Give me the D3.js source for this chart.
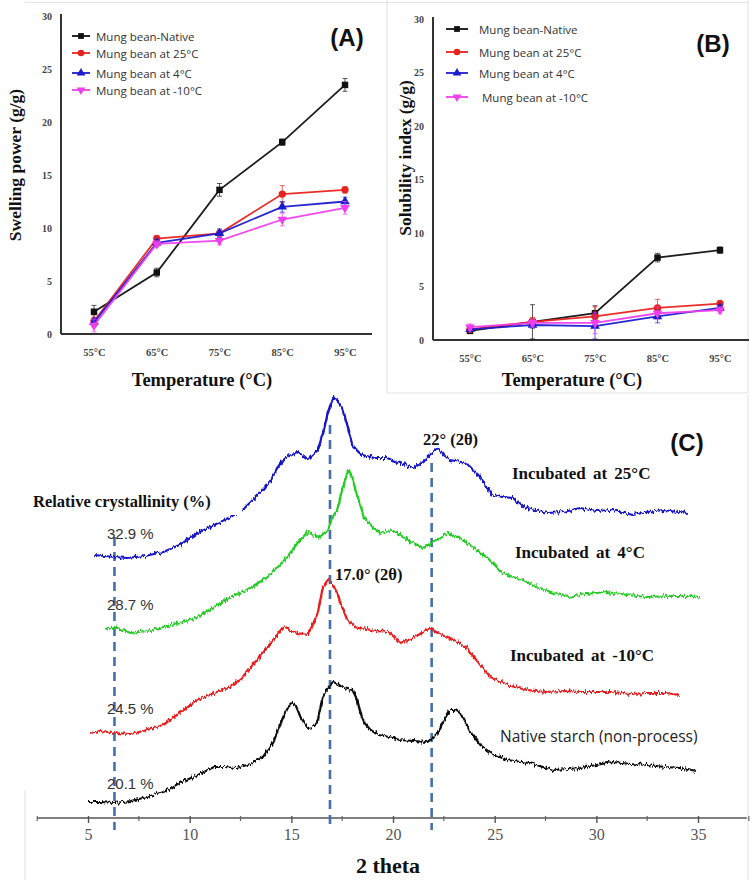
<!DOCTYPE html>
<html><head><meta charset="utf-8">
<script src="https://cdn.jsdelivr.net/npm/d3@7"></script>
<style>
html,body{margin:0;padding:0;background:#fff;}
svg{display:block;}
</style></head>
<body>
<svg id="chart" width="755" height="882"></svg>
<script>
// ---------- DATA ----------
const categories = ["55°C","65°C","75°C","85°C","95°C"];
const seriesNames = ["Mung bean-Native","Mung bean at 25°C","Mung bean at 4°C","Mung bean at -10°C"];
const seriesNamesB = ["Mung bean-Native","Mung bean at 25°C","Mung bean at 4°C"," Mung bean at -10°C"];
const yTicksAB = [0,5,10,15,20,25,30];

const swellNative = [2.1, 5.8, 13.6, 18.1, 23.5];
const swell25     = [1.2, 9.0, 9.5, 13.2, 13.6];
const swell4      = [1.1, 8.6, 9.5, 12.0, 12.5];
const swellM10    = [0.8, 8.5, 8.8, 10.8, 11.9];
const swellErrNative = [0.6, 0.4, 0.6, 0.3, 0.6];
const swellErr25     = [0.5, 0.3, 0.3, 0.8, 0.3];
const swellErr4      = [0.4, 0.3, 0.4, 0.5, 0.4];
const swellErrM10    = [0.6, 0.3, 0.4, 0.6, 0.6];

const solNative = [0.85, 1.7, 2.5, 7.7, 8.4];
const sol25     = [1.0, 1.7, 2.2, 3.0, 3.4];
const sol4      = [1.0, 1.4, 1.3, 2.2, 3.0];
const solM10    = [1.2, 1.6, 1.6, 2.5, 2.8];
const solErrNative = [0.2, 1.6, 0.7, 0.4, 0.3];
const solErr25     = [0.2, 0.4, 0.9, 0.8, 0.3];
const solErr4      = [0.2, 0.3, 1.2, 0.6, 0.3];
const solErrM10    = [0.3, 0.3, 1.0, 0.6, 0.3];

// XRD patterns (2θ, stacked intensity a.u.)
const xrd25 = [[5.3,263],[6.3,261],[6.9,260],[7.8,262],[8.7,266],[9.5,273],[10.4,285],[11.2,293],[12.0,301],[12.6,308],[13.1,318],[13.6,328],[14.0,338],[14.3,350],[14.6,358],[14.9,363],[15.3,366],[15.5,363],[15.8,358],[16.0,362],[16.3,368],[16.6,388],[16.8,406],[17.05,420],[17.25,418],[17.5,410],[17.75,393],[18.0,373],[18.3,366],[18.5,363],[19.1,360],[19.7,360],[20.35,355],[21.0,350],[21.5,356],[21.8,363],[22.2,370],[22.5,363],[22.8,358],[23.6,355],[24.3,341],[24.6,331],[24.9,323],[25.4,321],[25.9,320],[26.4,311],[27.0,308],[27.6,305],[28.4,306],[29.2,310],[30.0,307],[30.8,308],[31.8,303],[32.5,306],[33.3,308],[34.0,306],[34.5,305]];
const xrd4 = [[5.85,188],[6.3,191],[7.1,185],[7.9,187],[8.7,191],[9.5,195],[10.4,201],[11.2,211],[12.0,221],[12.8,228],[13.6,238],[14.2,248],[14.8,261],[15.3,275],[15.8,286],[16.1,283],[16.4,281],[16.8,288],[17.0,300],[17.25,308],[17.5,328],[17.8,348],[18.0,340],[18.15,328],[18.4,313],[18.55,301],[19.0,291],[19.4,285],[20.0,288],[20.7,278],[21.5,270],[22.1,278],[22.7,285],[23.15,281],[23.65,275],[24.1,268],[24.6,261],[25.0,253],[25.4,245],[25.9,241],[26.4,238],[27.2,230],[27.9,225],[28.6,221],[29.5,224],[30.5,226],[31.5,223],[32.5,221],[33.5,222],[34.5,222],[35.1,221]];
const xrdM10 = [[5.1,85],[5.6,87],[6.3,85],[7.1,84],[7.9,88],[8.7,93],[9.5,105],[10.4,118],[11.2,125],[12.0,131],[12.6,141],[13.1,153],[13.6,165],[14.1,178],[14.6,191],[14.9,188],[15.3,185],[15.8,183],[16.0,191],[16.3,205],[16.55,231],[16.8,238],[17.05,233],[17.25,225],[17.5,211],[17.75,198],[18.1,192],[18.5,190],[19.1,187],[19.8,186],[20.35,175],[21.0,180],[21.4,185],[21.8,190],[22.2,185],[22.7,180],[23.15,176],[23.6,171],[23.9,163],[24.3,153],[24.8,141],[25.1,138],[25.8,132],[26.6,128],[27.5,126],[28.4,127],[29.2,126],[30.0,126],[30.8,126],[31.7,124],[32.5,125],[33.4,125],[34.1,123]];
const xrdNative = [[5.0,16],[5.6,16],[6.3,15],[7.1,17],[7.9,21],[8.7,26],[9.5,35],[10.4,43],[11.2,51],[11.7,51],[12.3,50],[13.0,54],[13.6,61],[14.1,75],[14.6,101],[14.85,111],[15.05,115],[15.25,111],[15.45,101],[15.8,90],[16.1,91],[16.3,98],[16.55,121],[16.8,130],[17.05,136],[17.3,134],[17.55,130],[18.0,128],[18.2,120],[18.4,105],[18.6,95],[18.9,88],[19.3,83],[19.8,81],[20.35,78],[21.0,77],[21.7,76],[22.2,85],[22.5,98],[22.8,108],[23.05,108],[23.3,105],[23.55,96],[23.8,86],[24.3,73],[24.8,65],[25.6,58],[26.7,55],[27.9,48],[28.6,49],[29.2,50],[30.0,53],[30.8,56],[31.7,54],[32.5,53],[33.4,51],[34.1,50],[34.9,46]];
const xTicksC = [5,10,15,20,25,30,35];
const minorTicksC = [2.5,7.5,12.5,17.5,22.5,27.5,32.5,37.5];
const crystallinity = ["32.9 %","28.7 %","24.5 %","20.1 %"];
const curveLabels = ["Incubated at 25°C","Incubated at 4°C","Incubated at -10°C","Native starch (non-process)"];
const peakLines = [6.3, 16.9, 21.9];

// ---------- SETUP ----------
const svg = d3.select("#chart");
svg.append("rect").attr("width",755).attr("height",882).attr("fill","#fff");
const defs = svg.append("defs");
const f = defs.append("filter").attr("id","rough").attr("x","-5%").attr("y","-20%").attr("width","110%").attr("height","140%");
f.append("feTurbulence").attr("type","fractalNoise").attr("baseFrequency","0.55 0.12").attr("numOctaves",2).attr("seed",7).attr("result","n");
f.append("feColorMatrix").attr("in","n").attr("type","matrix")
  .attr("values","0 0 0 0 0.5  0 1 0 0 0  0 0 1 0 0  0 0 0 0 1").attr("result","ny");
f.append("feDisplacementMap").attr("in","SourceGraphic").attr("in2","ny").attr("scale",7).attr("xChannelSelector","R").attr("yChannelSelector","G");

const SERIF = "'Liberation Serif','Times New Roman',serif";
const SANS = "'Open Sans','Noto Sans',sans-serif";

// faint panel frames
const frame = svg.append("g").attr("stroke","#e4e4e4").attr("stroke-width",1.2).attr("fill","none");
frame.append("line").attr("x1",25).attr("x2",387).attr("y1",2.5).attr("y2",2.5);
frame.append("line").attr("x1",387).attr("x2",748).attr("y1",2.5).attr("y2",2.5);
frame.append("line").attr("x1",387).attr("x2",387).attr("y1",0).attr("y2",393);
frame.append("line").attr("x1",748).attr("x2",748).attr("y1",0).attr("y2",393);
frame.append("line").attr("x1",387).attr("x2",748).attr("y1",393).attr("y2",393);
frame.append("line").attr("x1",748).attr("x2",748).attr("y1",395).attr("y2",880);
frame.append("line").attr("x1",25).attr("x2",25).attr("y1",790).attr("y2",880);

const colors = ["#111111","#e8231f","#1c1ccf","#ee3fee"];
const symbols = [d3.symbolSquare, d3.symbolCircle, d3.symbolTriangle, d3.symbolTriangle];
const rotations = [0,0,0,180];
const symSizes = [42, 42, 40, 40];

function panel(cfg){
  const g = svg.append("g");
  const x = d3.scalePoint().domain(categories).range([cfg.x0, cfg.x1]);
  const y = d3.scaleLinear().domain([0,30]).range([cfg.yb, cfg.yt]);
  g.append("line").attr("x1",cfg.ax).attr("x2",cfg.ax).attr("y1",cfg.yt-2).attr("y2",cfg.yb).attr("stroke","#333").attr("stroke-width",2);
  g.append("line").attr("x1",cfg.ax).attr("x2",cfg.axEnd).attr("y1",cfg.yb).attr("y2",cfg.yb).attr("stroke","#333").attr("stroke-width",2);
  const ya = g.append("g").attr("transform",`translate(${cfg.ax},0)`).call(d3.axisLeft(y).tickValues(yTicksAB).tickSize(0).tickPadding(9));
  ya.select(".domain").remove();
  ya.selectAll("text").attr("font-family",SERIF).attr("font-weight","bold").attr("font-size",10).attr("fill","#444");
  const xa = g.append("g").attr("transform",`translate(0,${cfg.yb})`).call(d3.axisBottom(x).tickSize(0).tickPadding(15));
  xa.select(".domain").remove();
  xa.selectAll("text").attr("font-family",SERIF).attr("font-weight","bold").attr("font-size",10.5).attr("fill","#444");
  g.append("text").attr("x",cfg.xlabX).attr("y",386).attr("text-anchor","middle")
   .attr("font-family",SERIF).attr("font-weight","bold").attr("font-size",18.5).attr("fill","#111").text("Temperature (°C)");
  g.append("text").attr("transform",`translate(${cfg.ylabX},${cfg.ylabY}) rotate(-90)`).attr("text-anchor","middle")
   .attr("font-family",SERIF).attr("font-weight","bold").attr("font-size",17.5).attr("fill","#111").text(cfg.ylab);
  g.append("text").attr("x",cfg.tagX).attr("y",cfg.tagY).attr("text-anchor","middle").attr("dominant-baseline","central")
   .attr("font-family","'Liberation Sans',Arial,sans-serif").attr("font-weight","bold").attr("font-size",24).attr("fill","#111").text(cfg.tag);
  const line = d3.line().x((d,i)=>x(categories[i])).y(d=>y(d));
  cfg.series.forEach((s,k)=>{
    g.append("path").datum(s.v).attr("d",line).attr("fill","none").attr("stroke",colors[k]).attr("stroke-width",1.8).attr("opacity",0.95);
    s.v.forEach((v,i)=>{
      const cx = x(categories[i]);
      const e = s.e[i];
      g.append("line").attr("x1",cx).attr("x2",cx).attr("y1",y(v-e)).attr("y2",y(v+e)).attr("stroke",colors[k]).attr("stroke-width",1).attr("opacity",0.7);
      [v-e,v+e].forEach(t=>g.append("line").attr("x1",cx-2.5).attr("x2",cx+2.5).attr("y1",y(t)).attr("y2",y(t)).attr("stroke",colors[k]).attr("stroke-width",1).attr("opacity",0.7));
      g.append("path").attr("d",d3.symbol().type(symbols[k]).size(symSizes[k])())
       .attr("transform",`translate(${cx},${y(v)}) rotate(${rotations[k]})`).attr("fill",colors[k]);
    });
  });
  cfg.legendNames.forEach((name,k)=>{
    const ly = cfg.legY[k];
    g.append("line").attr("x1",cfg.legX).attr("x2",cfg.legX+cfg.legW).attr("y1",ly).attr("y2",ly).attr("stroke",colors[k]).attr("stroke-width",1.8);
    g.append("path").attr("d",d3.symbol().type(symbols[k]).size(symSizes[k]*0.8)())
     .attr("transform",`translate(${cfg.legX+cfg.legW/2},${ly}) rotate(${rotations[k]})`).attr("fill",colors[k]);
    g.append("text").attr("x",cfg.legTX).attr("y",ly).attr("dominant-baseline","central").attr("xml:space","preserve")
     .attr("font-family",SANS).attr("font-size",11.5).attr("fill","#333").text(name);
  });
}

panel({x0:94,x1:345,yb:334,yt:16,ax:61,axEnd:372,xlabX:202,ylabX:21,ylabY:165,ylab:"Swelling power (g/g)",
  tag:"(A)",tagX:347,tagY:37,legX:72,legW:18,legTX:96,legY:[36,53,73,90],legendNames:seriesNames,
  series:[{v:swellNative,e:swellErrNative},{v:swell25,e:swellErr25},{v:swell4,e:swellErr4},{v:swellM10,e:swellErrM10}]});
panel({x0:470,x1:720,yb:340,yt:19,ax:433,axEnd:749,xlabX:572,ylabX:411,ylabY:158,ylab:"Solubility index (g/g)",
  tag:"(B)",tagX:713,tagY:43,legX:446,legW:22,legTX:479,legY:[29,52,73,97],legendNames:seriesNamesB,
  series:[{v:solNative,e:solErrNative},{v:sol25,e:solErr25},{v:sol4,e:solErr4},{v:solM10,e:solErrM10}]});

// ---------- PANEL C ----------
const gc = svg.append("g");
const xC = d3.scaleLinear().domain([2.5,37.4]).range([37.2,746.8]);
const yC = d3.scaleLinear().domain([0,430]).range([818,388]);

gc.append("line").attr("x1",xC(2.5)).attr("x2",xC(37.4)).attr("y1",818).attr("y2",818).attr("stroke","#555").attr("stroke-width",1.6);
const ax = gc.append("g").attr("transform","translate(0,818)").call(d3.axisBottom(xC).tickValues(xTicksC).tickSize(5).tickPadding(6));
ax.select(".domain").remove();
ax.selectAll("line").attr("stroke","#555").attr("stroke-width",1.4).attr("y1",-2);
ax.selectAll("text").attr("font-family",SERIF).attr("font-size",16).attr("fill","#555");
gc.selectAll(".minor").data(minorTicksC).join("line").attr("class","minor")
  .attr("x1",d=>xC(d)).attr("x2",d=>xC(d)).attr("y1",816).attr("y2",821).attr("stroke","#666").attr("stroke-width",1.2);
gc.append("text").attr("x",388).attr("y",873).attr("text-anchor","middle").attr("font-family",SERIF).attr("font-weight","bold")
  .attr("font-size",22).attr("fill","#111").text("2 theta");

const peakTop = [537,425,463];
peakLines.forEach((p,i)=>{
  gc.append("line").attr("x1",xC(p)).attr("x2",xC(p)).attr("y1",peakTop[i]).attr("y2",830)
    .attr("stroke","#4670ad").attr("stroke-width",2.6).attr("stroke-dasharray","9,6");
});

const lineC = d3.line().x(d=>xC(d[0])).y(d=>yC(d[1]));
const curves = [xrd25, xrd4, xrdM10, xrdNative];
const curveColors = ["#1414c8","#22cc22","#e81c1c","#111111"];
curves.forEach((c,i)=>{
  gc.append("path").datum(c).attr("d",lineC).attr("fill","none").attr("stroke",curveColors[i])
    .attr("stroke-width",2.2).attr("stroke-linejoin","round").attr("filter","url(#rough)");
});

gc.append("rect").attr("x",28).attr("y",487).attr("width",214).attr("height",28).attr("fill","#fff");
gc.append("text").attr("x",33).attr("y",507).attr("font-family",SERIF).attr("font-weight","bold").attr("font-size",16.5)
  .attr("fill","#111").text("Relative crystallinity (%)");

const crystY = [539,610,714,789];
crystallinity.forEach((t,i)=>{
  gc.append("text").attr("x",107).attr("y",crystY[i]).attr("font-family","'Liberation Sans',Arial,sans-serif")
    .attr("font-size",15).attr("fill","#333").text(t);
});

gc.append("text").attr("x",335).attr("y",580).attr("font-family",SERIF).attr("font-weight","bold").attr("font-size",16.5).attr("fill","#111").text("17.0° (2θ)");
gc.append("text").attr("x",423).attr("y",445).attr("font-family",SERIF).attr("font-weight","bold").attr("font-size",16.5).attr("fill","#111").text("22° (2θ)");
gc.append("text").attr("x",687).attr("y",442).attr("text-anchor","middle").attr("dominant-baseline","central")
  .attr("font-family","'Liberation Sans',Arial,sans-serif").attr("font-weight","bold").attr("font-size",24).attr("fill","#111").text("(C)");

const labPos = [[512,479],[515,558],[510,661]];
labPos.forEach((p,i)=>{
  gc.append("text").attr("x",p[0]).attr("y",p[1]).attr("font-family",SERIF).attr("font-weight","bold")
    .attr("font-size",17).attr("word-spacing","3px").attr("fill","#111").text(curveLabels[i]);
});
gc.append("text").attr("x",500).attr("y",742).attr("font-family","'Open Sans','Liberation Sans',sans-serif")
  .attr("font-size",15.5).attr("fill","#222").text(curveLabels[3]);
</script>
</body></html>
